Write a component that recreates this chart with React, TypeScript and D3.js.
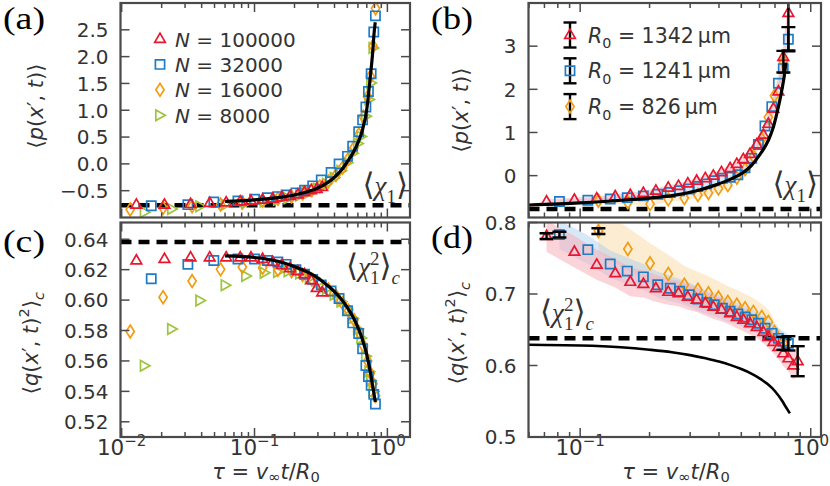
import { useEffect, useRef } from 'react';
import * as d3 from 'd3';

// ---- simulation (a), (c) ----
const tauN100000 = [0.0129, 0.021, 0.033, 0.046, 0.0612, 0.078, 0.094, 0.115, 0.137, 0.161, 0.185, 0.212, 0.238, 0.267, 0.294, 0.323];
const pN100000 = [-0.76, -0.76, -0.75, -0.73, -0.72, -0.7, -0.69, -0.67, -0.65, -0.62, -0.6, -0.57, -0.53, -0.49, -0.47, -0.43];
const qN100000 = [0.626, 0.627, 0.628, 0.628, 0.628, 0.628, 0.628, 0.627, 0.625, 0.623, 0.621, 0.619, 0.617, 0.613, 0.608, 0.605];

const tauN32000 = [0.0167, 0.0315, 0.0494, 0.075, 0.1, 0.125, 0.15, 0.173, 0.205, 0.238, 0.274, 0.318, 0.377, 0.433, 0.501, 0.548, 0.608, 0.651, 0.689, 0.72, 0.755, 0.79, 0.813];
const pN32000 = [-0.78, -0.76, -0.71, -0.69, -0.66, -0.63, -0.61, -0.58, -0.54, -0.49, -0.41, -0.3, -0.16, 0.0, 0.14, 0.33, 0.6, 0.82, 1.06, 1.35, 1.68, 2.46, 2.76];
const qN32000 = [0.614, 0.6235, 0.626, 0.627, 0.627, 0.626, 0.625, 0.6235, 0.62, 0.617, 0.6136, 0.61, 0.606, 0.601, 0.593, 0.585, 0.578, 0.568, 0.557, 0.5497, 0.544, 0.538, 0.5317];

const tauN16000 = [0.0116, 0.0205, 0.0339, 0.0555, 0.081, 0.115, 0.15, 0.19, 0.23, 0.27, 0.31, 0.36, 0.41, 0.46, 0.51, 0.56, 0.61, 0.66, 0.71, 0.745, 0.78, 0.815];
const pN16000 = [-0.85, -0.82, -0.79, -0.76, -0.72, -0.69, -0.65, -0.61, -0.55, -0.49, -0.42, -0.33, -0.21, -0.07, 0.1, 0.3, 0.55, 0.88, 1.25, 1.63, 2.2, 2.9];
const qN16000 = [0.5794, 0.6019, 0.6125, 0.6202, 0.6217, 0.6213, 0.62, 0.619, 0.6165, 0.6135, 0.6105, 0.607, 0.603, 0.598, 0.593, 0.587, 0.579, 0.57, 0.56, 0.552, 0.545, 0.537];

const tauN8000 = [0.0149, 0.0239, 0.039, 0.0605, 0.0863, 0.119, 0.15, 0.18, 0.22, 0.26, 0.3, 0.35, 0.4, 0.45, 0.5, 0.55, 0.6, 0.636, 0.69, 0.73, 0.754, 0.785];
const pN8000 = [-0.9, -0.84, -0.79, -0.76, -0.73, -0.7, -0.67, -0.64, -0.59, -0.53, -0.46, -0.37, -0.26, -0.13, 0.02, 0.2, 0.38, 0.51, 0.89, 1.2, 1.51, 2.16];
const qN8000 = [0.5568, 0.581, 0.5997, 0.6098, 0.6158, 0.618, 0.6185, 0.619, 0.6175, 0.6145, 0.6115, 0.6075, 0.6035, 0.599, 0.594, 0.588, 0.581, 0.575, 0.563, 0.553, 0.547, 0.54];

// ---- theory curves ----
const tauTheoryA = [0.06, 0.1, 0.15, 0.2, 0.25, 0.3, 0.35, 0.4, 0.45, 0.5, 0.55, 0.6, 0.65, 0.7, 0.742, 0.775, 0.793, 0.81];
const pTheoryA = [-0.7, -0.67, -0.63, -0.58, -0.52, -0.45, -0.36, -0.25, -0.12, 0.04, 0.2, 0.39, 0.64, 1.02, 1.6, 2.08, 2.42, 2.64];
const tauTheoryB = [0.06, 0.1, 0.157, 0.2, 0.258, 0.32, 0.385, 0.45, 0.502, 0.55, 0.593, 0.625, 0.655, 0.689, 0.713, 0.749, 0.774, 0.78];
const pTheoryB = [-0.68, -0.63, -0.565, -0.52, -0.45, -0.35, -0.22, -0.08, 0.05, 0.22, 0.44, 0.62, 0.82, 1.13, 1.44, 1.98, 2.45, 2.62];
const tauTheoryQ = [0.06, 0.1, 0.15, 0.2, 0.25, 0.3, 0.35, 0.4, 0.45, 0.5, 0.55, 0.6, 0.65, 0.7, 0.75, 0.78, 0.812];
const qTheory = [0.629, 0.628, 0.6255, 0.622, 0.6185, 0.6145, 0.61, 0.6055, 0.6005, 0.595, 0.589, 0.582, 0.574, 0.564, 0.551, 0.542, 0.533];

const chi1Mean = -0.7711;
const chi1Var = 0.6381;

// ---- experiment (b), (d) ----
const tauR1342 = [0.0715, 0.0944, 0.118, 0.142, 0.165, 0.188, 0.213, 0.241, 0.267, 0.293, 0.32, 0.349, 0.378, 0.41, 0.447, 0.478, 0.51, 0.545, 0.583, 0.623, 0.655, 0.689, 0.724, 0.76, 0.8, 0.84, 0.878];
const pR1342 = [-0.6, -0.56, -0.53, -0.48, -0.45, -0.4, -0.35, -0.28, -0.24, -0.18, -0.12, -0.06, 0.0, 0.08, 0.17, 0.27, 0.38, 0.5, 0.72, 0.95, 1.2, 1.55, 1.95, 2.75, 3.77];
const pErrR1342 = [0.05, 0.05, 0.05, 0.05, 0.05, 0.05, 0.05, 0.06, 0.06, 0.06, 0.06, 0.06, 0.07, 0.07, 0.07, 0.08, 0.08, 0.09, 0.1, 0.11, 0.13, 0.15, 0.18, 0.25, 0.35];
const qR1342 = [0.781, 0.759, 0.741, 0.729, 0.717, 0.714, 0.708, 0.703, 0.701, 0.696, 0.692, 0.687, 0.682, 0.678, 0.673, 0.668, 0.664, 0.659, 0.654, 0.647, 0.64, 0.633, 0.626, 0.617, 0.61, 0.6, 0.606];
const qErrR1342 = [0.022, 0.022, 0.021, 0.02, 0.02, 0.019, 0.019, 0.018, 0.018, 0.018, 0.017, 0.017, 0.017, 0.016, 0.016, 0.016, 0.016, 0.016, 0.016, 0.016, 0.016, 0.016, 0.017, 0.018, 0.018, 0.02, 0.02];

const tauR1241 = [0.0813, 0.108, 0.135, 0.16, 0.188, 0.217, 0.246, 0.27, 0.297, 0.324, 0.354, 0.382, 0.414, 0.447, 0.483, 0.519, 0.555, 0.593, 0.633, 0.678, 0.724, 0.76, 0.8];
const pR1241 = [-0.6, -0.57, -0.54, -0.51, -0.47, -0.43, -0.39, -0.35, -0.31, -0.25, -0.19, -0.12, -0.06, -0.04, 0.02, 0.18, 0.4, 0.72, 1.15, 1.6, 2.14, 2.48, 3.16];
const pErrR1241 = [0.04, 0.04, 0.04, 0.04, 0.04, 0.04, 0.04, 0.05, 0.05, 0.05, 0.05, 0.05, 0.06, 0.06, 0.06, 0.07, 0.07, 0.08, 0.09, 0.11, 0.14, 0.18, 0.28];
const qR1241 = [0.783, 0.762, 0.742, 0.732, 0.724, 0.713, 0.708, 0.704, 0.699, 0.693, 0.688, 0.685, 0.68, 0.676, 0.672, 0.668, 0.664, 0.659, 0.652, 0.645, 0.638, 0.634, 0.631];
const qErrR1241 = [0.02, 0.02, 0.019, 0.019, 0.018, 0.018, 0.018, 0.017, 0.017, 0.017, 0.016, 0.016, 0.016, 0.016, 0.015, 0.015, 0.015, 0.015, 0.015, 0.015, 0.014, 0.014, 0.012];

const tauR826 = [0.12, 0.161, 0.201, 0.241, 0.283, 0.324, 0.36, 0.398, 0.437, 0.478, 0.519, 0.564, 0.613, 0.655, 0.696, 0.761];
const pR826 = [-0.58, -0.62, -0.66, -0.55, -0.52, -0.45, -0.4, -0.3, -0.22, -0.05, 0.15, 0.45, 0.85, 1.35, 1.85, 2.64];
const pErrR826 = [0.05, 0.05, 0.05, 0.05, 0.05, 0.06, 0.06, 0.06, 0.07, 0.07, 0.08, 0.09, 0.1, 0.12, 0.15, 0.25];
const qR826 = [0.788, 0.763, 0.743, 0.728, 0.713, 0.706, 0.701, 0.695, 0.689, 0.685, 0.68, 0.675, 0.668, 0.661, 0.647, 0.631];
const qErrR826 = [0.03, 0.03, 0.028, 0.027, 0.026, 0.025, 0.024, 0.023, 0.022, 0.021, 0.02, 0.019, 0.018, 0.017, 0.016, 0.012];

const labelsN = ['100000', '32000', '16000', '8000'];
const labelsR0 = ['1342', '1241', '826'];

const FONT = "'DejaVu Sans', sans-serif";
const SERIF = "'Liberation Serif', 'DejaVu Serif', serif";
const AXIS = '#4a4a4a';
const TXT = '#333';
const RED = '#e8162e';
const BLUE = '#1f7cc4';
const ORANGE = '#f39c12';
const GREEN = '#9cc43c';

const SHAPES: Record<string, string> = {
  tri: 'M0,-5.8L5.3,3.4L-5.3,3.4Z',
  sq: 'M-4.6,-4.6H4.6V4.6H-4.6Z',
  dia: 'M0,-6.4L4.1,0L0,6.4L-4.1,0Z',
  rtri: 'M-4.2,-5.3L5.3,0L-4.2,5.3Z',
};

type Part = { t: string; it?: boolean; sub?: boolean; sup?: boolean; dx?: number; fs?: number };
type Sel = d3.Selection<any, any, any, any>;

function rich(text: Sel, parts: Part[], size: number, subShift = 0.28) {
  let shift = 0;
  parts.forEach((p) => {
    const target = p.sub ? size * subShift : p.sup ? -size * 0.42 : 0;
    const ts = text.append('tspan').attr('dy', target - shift).text(p.t);
    shift = target;
    if (p.dx) ts.attr('dx', p.dx);
    if (p.it) ts.attr('font-style', 'italic');
    if (p.sub || p.sup) ts.attr('font-size', size * 0.7);
    if (p.fs) ts.attr('font-size', p.fs);
  });
}

const zip = (a: number[], b: number[]) => b.map((v, i) => [a[i], v] as [number, number]);
const minus = (s: string) => s.replace('-', '\u2212');

export default function App() {
  const ref = useRef<SVGSVGElement>(null);

  useEffect(() => {
    if (!ref.current) return;
    const svg = d3.select(ref.current);
    svg.selectAll('*').remove();
    const defs = svg.append('defs');

    const xAC = d3.scaleLog().domain([0.0098, 1.48]).range([120.5, 410]);
    const xBD = d3.scaleLog().domain([0.0597, 1.108]).range([528.5, 821]);
    const yA = d3.scaleLinear().domain([-1, 3]).range([217.5, 3]);
    const yB = d3.scaleLinear().domain([-0.97, 4]).range([217.5, 3]);
    const yC = d3.scaleLinear().domain([0.51, 0.651]).range([437, 222.5]);
    const yD = d3.scaleLinear().domain([0.5, 0.8]).range([437, 222.5]);

    const panel = (
      id: string,
      x: d3.ScaleLogarithmic<number, number>,
      y: d3.ScaleLinear<number, number>,
    ) => {
      const [x0, x1] = x.range();
      const [y0, y1] = y.range();
      defs.append('clipPath').attr('id', `clip-${id}`)
        .append('rect').attr('x', x0).attr('y', y1).attr('width', x1 - x0).attr('height', y0 - y1);
      return svg.append('g').attr('clip-path', `url(#clip-${id})`);
    };

    const drawBand = (g: Sel, x: any, y: any, tau: number[], v: number[], e: number[], color: string, op: number) => {
      const d = v.map((vv, i) => ({ t: tau[i], v: vv, e: e[i] }));
      const area = d3.area<{ t: number; v: number; e: number }>()
        .x((p) => x(p.t)).y0((p) => y(p.v - p.e)).y1((p) => y(p.v + p.e));
      g.append('path').attr('d', area(d)!).attr('fill', color).attr('fill-opacity', op);
    };

    const drawDashed = (g: Sel, x: any, y: any, v: number) => {
      const [x0, x1] = x.range();
      g.append('line').attr('x1', x0).attr('x2', x1).attr('y1', y(v)).attr('y2', y(v))
        .attr('stroke', '#000').attr('stroke-width', 4.5).attr('stroke-dasharray', '11,7');
    };

    const drawMarkers = (g: Sel, x: any, y: any, pts: [number, number][], shape: string, color: string) => {
      g.selectAll(null).data(pts).join('path')
        .attr('d', SHAPES[shape])
        .attr('transform', (d: any) => `translate(${x(d[0])},${y(d[1])})`)
        .attr('fill', 'none').attr('stroke', color).attr('stroke-width', 1.7);
    };

    const drawTheory = (g: Sel, x: any, y: any, pts: [number, number][], w: number) => {
      const line = d3.line<[number, number]>().x((d) => x(d[0])).y((d) => y(d[1])).curve(d3.curveMonotoneX);
      g.append('path').attr('d', line(pts)!).attr('fill', 'none').attr('stroke', '#000').attr('stroke-width', w);
    };

    const drawErr = (g: Sel, x: any, y: any, t: number, v: number, e: number) => {
      const cx = x(t);
      const eg = g.append('g').attr('stroke', '#000').attr('stroke-width', 2.4);
      eg.append('line').attr('x1', cx).attr('x2', cx).attr('y1', y(v - e)).attr('y2', y(v + e));
      [v - e, v + e].forEach((yy) => {
        eg.append('line').attr('x1', cx - 7).attr('x2', cx + 7).attr('y1', y(yy)).attr('y2', y(yy));
      });
    };

    const drawFrame = (x: any, y: any, yTicks: number[], fmt: (v: number) => string, xLabels: boolean) => {
      const [x0, x1] = x.range();
      const [y0, y1] = y.range();
      const fg = svg.append('g');
      const tg = fg.append('g').attr('stroke', AXIS).attr('stroke-width', 1.5);
      x.ticks().forEach((t: number) => {
        const lg = Math.log10(t);
        const major = Math.abs(lg - Math.round(lg)) < 1e-6;
        const len = major ? 9 : 5;
        const px = x(t);
        tg.append('line').attr('x1', px).attr('x2', px).attr('y1', y0).attr('y2', y0 - len);
        tg.append('line').attr('x1', px).attr('x2', px).attr('y1', y1).attr('y2', y1 + len);
        if (major && xLabels) {
          const tx = fg.append('text').attr('x', px).attr('y', 455).attr('text-anchor', 'middle')
            .attr('font-family', FONT).attr('font-size', 21.5).attr('fill', TXT);
          rich(tx, [{ t: '10' }, { t: minus(String(Math.round(lg))), sup: true }], 21.5);
        }
      });
      yTicks.forEach((t) => {
        const py = y(t);
        tg.append('line').attr('x1', x0).attr('x2', x0 + 9).attr('y1', py).attr('y2', py);
        tg.append('line').attr('x1', x1).attr('x2', x1 - 9).attr('y1', py).attr('y2', py);
        fg.append('text').attr('x', x0 - 12).attr('y', py + 7.3).attr('text-anchor', 'end')
          .attr('font-family', FONT).attr('font-size', 20).attr('fill', TXT).text(fmt(t));
      });
      fg.append('rect').attr('x', x0).attr('y', y1).attr('width', x1 - x0).attr('height', y0 - y1)
        .attr('fill', 'none').attr('stroke', AXIS).attr('stroke-width', 2.2);
    };

    // ---------- (a) ----------
    const gA = panel('a', xAC, yA);
    drawDashed(gA, xAC, yA, chi1Mean);
    drawMarkers(gA, xAC, yA, zip(tauN8000, pN8000), 'rtri', GREEN);
    drawMarkers(gA, xAC, yA, zip(tauN16000, pN16000), 'dia', ORANGE);
    drawMarkers(gA, xAC, yA, zip(tauN32000, pN32000), 'sq', BLUE);
    drawMarkers(gA, xAC, yA, zip(tauN100000, pN100000), 'tri', RED);
    drawTheory(gA, xAC, yA, zip(tauTheoryA, pTheoryA), 3.2);
    drawFrame(xAC, yA, [-0.5, 0, 0.5, 1, 1.5, 2, 2.5], (v) => minus(d3.format('.1f')(v)), false);

    // ---------- (c) ----------
    const gC = panel('c', xAC, yC);
    drawDashed(gC, xAC, yC, chi1Var);
    drawMarkers(gC, xAC, yC, zip(tauN8000, qN8000), 'rtri', GREEN);
    drawMarkers(gC, xAC, yC, zip(tauN16000, qN16000), 'dia', ORANGE);
    drawMarkers(gC, xAC, yC, zip(tauN32000, qN32000), 'sq', BLUE);
    drawMarkers(gC, xAC, yC, zip(tauN100000, qN100000), 'tri', RED);
    drawTheory(gC, xAC, yC, zip(tauTheoryQ, qTheory), 3.2);
    drawFrame(xAC, yC, [0.52, 0.54, 0.56, 0.58, 0.6, 0.62, 0.64], (v) => d3.format('.2f')(v), true);

    // ---------- (b) ----------
    const gB = panel('b', xBD, yB);
    drawBand(gB, xBD, yB, tauR826, pR826, pErrR826, '#f9d49a', 0.45);
    drawBand(gB, xBD, yB, tauR1241, pR1241, pErrR1241, '#a8cdee', 0.45);
    drawBand(gB, xBD, yB, tauR1342, pR1342, pErrR1342, '#f7a9b3', 0.5);
    drawDashed(gB, xBD, yB, chi1Mean);
    drawMarkers(gB, xBD, yB, zip(tauR826, pR826), 'dia', ORANGE);
    drawMarkers(gB, xBD, yB, zip(tauR1241, pR1241), 'sq', BLUE);
    drawMarkers(gB, xBD, yB, zip(tauR1342, pR1342), 'tri', RED);
    drawTheory(gB, xBD, yB, zip(tauTheoryB, pTheoryB), 3.2);
    drawErr(gB, xBD, yB, 0.8, 3.77, 0.87);
    drawErr(gB, xBD, yB, 0.8, 3.16, 0.28);
    drawErr(gB, xBD, yB, 0.761, 2.64, 0.25);
    drawFrame(xBD, yB, [0, 1, 2, 3], (v) => d3.format('d')(v), false);

    // ---------- (d) ----------
    const gD = panel('d', xBD, yD);
    drawBand(gD, xBD, yD, tauR826, qR826, qErrR826, '#f9d49a', 0.45);
    drawBand(gD, xBD, yD, tauR1241, qR1241, qErrR1241, '#a8cdee', 0.45);
    drawBand(gD, xBD, yD, tauR1342, qR1342, qErrR1342, '#f7a9b3', 0.5);
    drawDashed(gD, xBD, yD, chi1Var);
    drawTheory(gD, xBD, yD, zip(tauTheoryQ, qTheory), 2.6);
    drawMarkers(gD, xBD, yD, zip(tauR826, qR826), 'dia', ORANGE);
    drawMarkers(gD, xBD, yD, zip(tauR1241, qR1241), 'sq', BLUE);
    drawMarkers(gD, xBD, yD, zip(tauR1342, qR1342), 'tri', RED);
    drawErr(gD, xBD, yD, tauR1342[0], qR1342[0], 0.004);
    drawErr(gD, xBD, yD, tauR1241[0], qR1241[0], 0.004);
    drawErr(gD, xBD, yD, tauR826[0], qR826[0], 0.004);
    drawErr(gD, xBD, yD, tauR1342[26], qR1342[26], 0.021);
    drawErr(gD, xBD, yD, tauR1241[22], qR1241[22], 0.01);
    drawErr(gD, xBD, yD, tauR826[15], qR826[15], 0.009);
    drawFrame(xBD, yD, [0.5, 0.6, 0.7, 0.8], (v) => d3.format('.1f')(v), true);

    // ---------- legends ----------
    const legA = svg.append('g');
    const shapesA = ['tri', 'sq', 'dia', 'rtri'];
    const colorsA = [RED, BLUE, ORANGE, GREEN];
    labelsN.forEach((n, i) => {
      const cy = 39 + i * 25.4;
      legA.append('path').attr('d', SHAPES[shapesA[i]]).attr('transform', `translate(160,${cy})`)
        .attr('fill', 'none').attr('stroke', colorsA[i]).attr('stroke-width', 1.7);
      const t = legA.append('text').attr('x', 175).attr('y', cy + 7.5).attr('font-family', FONT)
        .attr('font-size', 20).attr('fill', TXT);
      rich(t, [{ t: 'N', it: true }, { t: ' = ' + n }], 20);
    });

    const legB = svg.append('g');
    const shapesB = ['tri', 'sq', 'dia'];
    const colorsB = [RED, BLUE, ORANGE];
    labelsR0.forEach((r, i) => {
      const cy = 35 + i * 35.8;
      const eg = legB.append('g').attr('stroke', '#000').attr('stroke-width', 2.4);
      eg.append('line').attr('x1', 570).attr('x2', 570).attr('y1', cy - 12.5).attr('y2', cy + 12.5);
      eg.append('line').attr('x1', 563.5).attr('x2', 576.5).attr('y1', cy - 12.5).attr('y2', cy - 12.5);
      eg.append('line').attr('x1', 563.5).attr('x2', 576.5).attr('y1', cy + 12.5).attr('y2', cy + 12.5);
      legB.append('path').attr('d', SHAPES[shapesB[i]]).attr('transform', `translate(570,${cy})`)
        .attr('fill', 'none').attr('stroke', colorsB[i]).attr('stroke-width', 1.7);
      const t = legB.append('text').attr('x', 588).attr('y', cy + 7.5).attr('font-family', FONT)
        .attr('font-size', 20.5).attr('fill', TXT);
      rich(t, [{ t: 'R', it: true }, { t: '0', sub: true }, { t: ' = ' + r + '\u2009\u00b5m' }], 20.5);
    });

    // ---------- annotations ----------
    const ann = (x: number, y: number, anchor: string, parts: Part[]) => {
      const t = svg.append('text').attr('x', x).attr('y', y).attr('text-anchor', anchor)
        .attr('font-family', SERIF).attr('font-size', 27).attr('fill', TXT);
      rich(t, parts, 27);
    };
    const chi1: Part[] = [{ t: '\u27e8', fs: 31 }, { t: '\u03c7', it: true }, { t: '1', sub: true }, { t: '\u27e9', fs: 31 }];
    const chi2: Part[] = [
      { t: '\u27e8', fs: 31 }, { t: '\u03c7', it: true }, { t: '1', sub: true },
      { t: '2', sup: true, dx: -9.5 }, { t: '\u27e9', fs: 31 }, { t: 'c', it: true, sub: true },
    ];
    ann(408, 195, 'end', chi1);
    ann(818, 194, 'end', chi1);
    ann(400, 276, 'end', chi2);
    ann(540, 322, 'start', chi2);

    // ---------- axis titles ----------
    const ylab = (x: number, y: number, parts: Part[]) => {
      const t = svg.append('text').attr('transform', `translate(${x},${y}) rotate(-90)`)
        .attr('text-anchor', 'middle').attr('font-family', FONT).attr('font-size', 21).attr('fill', TXT);
      rich(t, parts, 21);
    };
    const pLab: Part[] = [{ t: '\u27e8' }, { t: 'p', it: true }, { t: '(' }, { t: 'x', it: true }, { t: '\u2032, ' }, { t: 't', it: true }, { t: ')\u27e9' }];
    const qLab: Part[] = [{ t: '\u27e8' }, { t: 'q', it: true }, { t: '(' }, { t: 'x', it: true }, { t: '\u2032, ' }, { t: 't', it: true }, { t: ')' }, { t: '2', sup: true }, { t: '\u27e9' }, { t: 'c', it: true, sub: true }];
    ylab(43, 106, pLab);
    ylab(38, 343, qLab);
    ylab(468, 110, pLab);
    ylab(464, 333, qLab);

    const xLab: Part[] = [{ t: '\u03c4', it: true }, { t: ' = ' }, { t: 'v', it: true }, { t: '\u221e', sub: true }, { t: 't', it: true }, { t: '/' }, { t: 'R', it: true }, { t: '0', sub: true }];
    [266, 676].forEach((cx) => {
      const t = svg.append('text').attr('x', cx).attr('y', 479).attr('text-anchor', 'middle')
        .attr('font-family', FONT).attr('font-size', 21).attr('fill', TXT);
      rich(t, xLab, 21, 0.15);
    });

    // ---------- panel labels ----------
    [['(a)', 3, 28.5], ['(b)', 431, 28.5], ['(c)', 3, 252], ['(d)', 431, 248]].forEach(([s, x, y]) => {
      svg.append('text').attr('x', x as number).attr('y', y as number).attr('font-family', SERIF)
        .attr('font-size', 32).attr('textLength', 42).attr('lengthAdjust', 'spacingAndGlyphs')
        .attr('fill', '#000').text(s as string);
    });
  }, []);

  return (
    <svg
      ref={ref}
      width={830}
      height={486}
      style={{ position: 'absolute', left: 0, top: 0, background: '#fff' }}
    />
  );
}
